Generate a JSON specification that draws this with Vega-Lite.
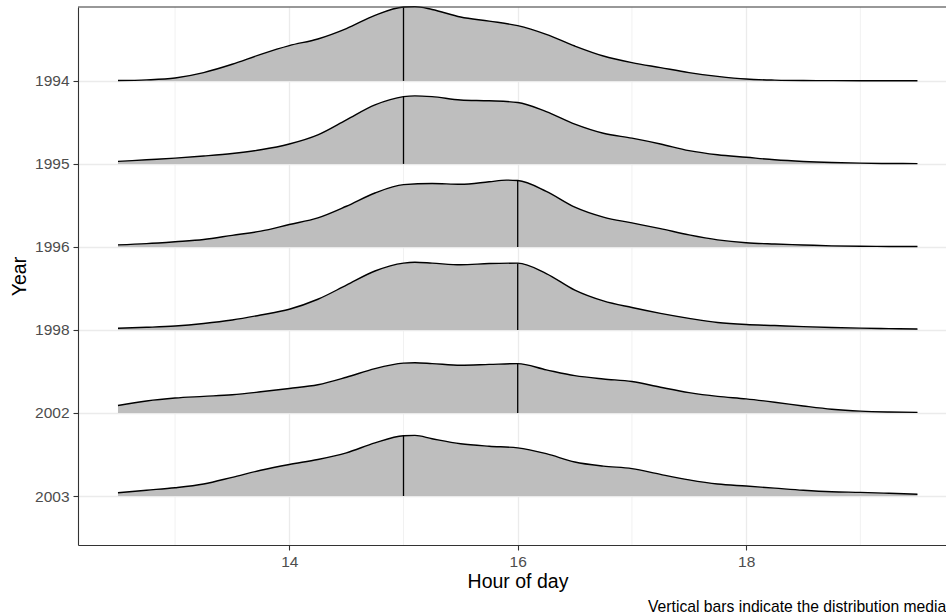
{
  "$schema": "https://vega.github.io/schema/vega-lite/v6.json",
  "width": 868,
  "height": 538,
  "autosize": {"type": "none"},
  "padding": {"left": 78, "top": 7, "right": 0, "bottom": 71},
  "title": {
    "text": "Vertical bars indicate the distribution median",
    "orient": "bottom",
    "anchor": "start",
    "frame": "group",
    "dx": 570,
    "offset": 9,
    "fontSize": 15.7,
    "fontWeight": "normal",
    "font": "Liberation Sans",
    "color": "#000000"
  },
  "datasets": {
    "minor": [{"h": 13}, {"h": 15}, {"h": 17}, {"h": 19}],
    "medians": [
      {"Year": "1994", "median": 15, "d": 0.89},
      {"Year": "1995", "median": 15, "d": 0.81},
      {"Year": "1996", "median": 16, "d": 0.80},
      {"Year": "1998", "median": 16, "d": 0.80},
      {"Year": "2002", "median": 16, "d": 0.59},
      {"Year": "2003", "median": 15, "d": 0.725}
    ],
    "ridges": [
      {"Year":"1994","hour":12.5,"d":0.004},{"Year":"1994","hour":12.75,"d":0.012},{"Year":"1994","hour":13,"d":0.035},{"Year":"1994","hour":13.25,"d":0.10},{"Year":"1994","hour":13.5,"d":0.20},{"Year":"1994","hour":13.75,"d":0.32},{"Year":"1994","hour":14,"d":0.425},{"Year":"1994","hour":14.25,"d":0.505},{"Year":"1994","hour":14.5,"d":0.63},{"Year":"1994","hour":14.75,"d":0.79},{"Year":"1994","hour":15,"d":0.89},{"Year":"1994","hour":15.1,"d":0.895},{"Year":"1994","hour":15.25,"d":0.86},{"Year":"1994","hour":15.5,"d":0.77},{"Year":"1994","hour":15.75,"d":0.72},{"Year":"1994","hour":16,"d":0.665},{"Year":"1994","hour":16.25,"d":0.56},{"Year":"1994","hour":16.5,"d":0.42},{"Year":"1994","hour":16.75,"d":0.30},{"Year":"1994","hour":17,"d":0.22},{"Year":"1994","hour":17.25,"d":0.16},{"Year":"1994","hour":17.5,"d":0.10},{"Year":"1994","hour":17.75,"d":0.055},{"Year":"1994","hour":18,"d":0.022},{"Year":"1994","hour":18.25,"d":0.009},{"Year":"1994","hour":18.5,"d":0.004},{"Year":"1994","hour":18.75,"d":0.003},{"Year":"1994","hour":19,"d":0.002},{"Year":"1994","hour":19.25,"d":0.002},{"Year":"1994","hour":19.5,"d":0.002},
      {"Year":"1995","hour":12.5,"d":0.03},{"Year":"1995","hour":12.75,"d":0.05},{"Year":"1995","hour":13,"d":0.07},{"Year":"1995","hour":13.25,"d":0.095},{"Year":"1995","hour":13.5,"d":0.125},{"Year":"1995","hour":13.75,"d":0.17},{"Year":"1995","hour":14,"d":0.24},{"Year":"1995","hour":14.25,"d":0.35},{"Year":"1995","hour":14.5,"d":0.53},{"Year":"1995","hour":14.75,"d":0.71},{"Year":"1995","hour":15,"d":0.81},{"Year":"1995","hour":15.1,"d":0.82},{"Year":"1995","hour":15.25,"d":0.81},{"Year":"1995","hour":15.5,"d":0.77},{"Year":"1995","hour":15.75,"d":0.76},{"Year":"1995","hour":16,"d":0.74},{"Year":"1995","hour":16.25,"d":0.63},{"Year":"1995","hour":16.5,"d":0.48},{"Year":"1995","hour":16.75,"d":0.37},{"Year":"1995","hour":17,"d":0.31},{"Year":"1995","hour":17.25,"d":0.24},{"Year":"1995","hour":17.5,"d":0.16},{"Year":"1995","hour":17.75,"d":0.11},{"Year":"1995","hour":18,"d":0.08},{"Year":"1995","hour":18.25,"d":0.05},{"Year":"1995","hour":18.5,"d":0.03},{"Year":"1995","hour":18.75,"d":0.017},{"Year":"1995","hour":19,"d":0.009},{"Year":"1995","hour":19.25,"d":0.005},{"Year":"1995","hour":19.5,"d":0.004},
      {"Year":"1996","hour":12.5,"d":0.025},{"Year":"1996","hour":12.75,"d":0.04},{"Year":"1996","hour":13,"d":0.063},{"Year":"1996","hour":13.25,"d":0.09},{"Year":"1996","hour":13.5,"d":0.14},{"Year":"1996","hour":13.75,"d":0.19},{"Year":"1996","hour":14,"d":0.27},{"Year":"1996","hour":14.25,"d":0.35},{"Year":"1996","hour":14.5,"d":0.49},{"Year":"1996","hour":14.75,"d":0.65},{"Year":"1996","hour":15,"d":0.75},{"Year":"1996","hour":15.25,"d":0.765},{"Year":"1996","hour":15.5,"d":0.755},{"Year":"1996","hour":15.75,"d":0.785},{"Year":"1996","hour":15.9,"d":0.805},{"Year":"1996","hour":16,"d":0.80},{"Year":"1996","hour":16.25,"d":0.67},{"Year":"1996","hour":16.5,"d":0.48},{"Year":"1996","hour":16.75,"d":0.36},{"Year":"1996","hour":17,"d":0.29},{"Year":"1996","hour":17.25,"d":0.22},{"Year":"1996","hour":17.5,"d":0.145},{"Year":"1996","hour":17.75,"d":0.085},{"Year":"1996","hour":18,"d":0.05},{"Year":"1996","hour":18.25,"d":0.035},{"Year":"1996","hour":18.5,"d":0.024},{"Year":"1996","hour":18.75,"d":0.013},{"Year":"1996","hour":19,"d":0.008},{"Year":"1996","hour":19.25,"d":0.006},{"Year":"1996","hour":19.5,"d":0.005},
      {"Year":"1998","hour":12.5,"d":0.02},{"Year":"1998","hour":12.75,"d":0.032},{"Year":"1998","hour":13,"d":0.048},{"Year":"1998","hour":13.25,"d":0.078},{"Year":"1998","hour":13.5,"d":0.12},{"Year":"1998","hour":13.75,"d":0.18},{"Year":"1998","hour":14,"d":0.25},{"Year":"1998","hour":14.25,"d":0.37},{"Year":"1998","hour":14.5,"d":0.54},{"Year":"1998","hour":14.75,"d":0.71},{"Year":"1998","hour":15,"d":0.805},{"Year":"1998","hour":15.1,"d":0.815},{"Year":"1998","hour":15.25,"d":0.805},{"Year":"1998","hour":15.5,"d":0.785},{"Year":"1998","hour":15.75,"d":0.80},{"Year":"1998","hour":16,"d":0.805},{"Year":"1998","hour":16.25,"d":0.68},{"Year":"1998","hour":16.5,"d":0.48},{"Year":"1998","hour":16.75,"d":0.35},{"Year":"1998","hour":17,"d":0.27},{"Year":"1998","hour":17.25,"d":0.20},{"Year":"1998","hour":17.5,"d":0.14},{"Year":"1998","hour":17.75,"d":0.09},{"Year":"1998","hour":18,"d":0.065},{"Year":"1998","hour":18.25,"d":0.053},{"Year":"1998","hour":18.5,"d":0.04},{"Year":"1998","hour":18.75,"d":0.03},{"Year":"1998","hour":19,"d":0.022},{"Year":"1998","hour":19.25,"d":0.016},{"Year":"1998","hour":19.5,"d":0.012},
      {"Year":"2002","hour":12.5,"d":0.09},{"Year":"2002","hour":12.75,"d":0.145},{"Year":"2002","hour":13,"d":0.18},{"Year":"2002","hour":13.25,"d":0.20},{"Year":"2002","hour":13.5,"d":0.22},{"Year":"2002","hour":13.75,"d":0.255},{"Year":"2002","hour":14,"d":0.295},{"Year":"2002","hour":14.25,"d":0.34},{"Year":"2002","hour":14.5,"d":0.43},{"Year":"2002","hour":14.75,"d":0.535},{"Year":"2002","hour":15,"d":0.60},{"Year":"2002","hour":15.1,"d":0.605},{"Year":"2002","hour":15.25,"d":0.595},{"Year":"2002","hour":15.5,"d":0.575},{"Year":"2002","hour":15.75,"d":0.585},{"Year":"2002","hour":16,"d":0.595},{"Year":"2002","hour":16.25,"d":0.52},{"Year":"2002","hour":16.5,"d":0.45},{"Year":"2002","hour":16.75,"d":0.41},{"Year":"2002","hour":17,"d":0.38},{"Year":"2002","hour":17.25,"d":0.31},{"Year":"2002","hour":17.5,"d":0.245},{"Year":"2002","hour":17.75,"d":0.20},{"Year":"2002","hour":18,"d":0.17},{"Year":"2002","hour":18.25,"d":0.13},{"Year":"2002","hour":18.5,"d":0.085},{"Year":"2002","hour":18.75,"d":0.045},{"Year":"2002","hour":19,"d":0.022},{"Year":"2002","hour":19.25,"d":0.012},{"Year":"2002","hour":19.5,"d":0.008},
      {"Year":"2003","hour":12.5,"d":0.04},{"Year":"2003","hour":12.75,"d":0.07},{"Year":"2003","hour":13,"d":0.10},{"Year":"2003","hour":13.25,"d":0.145},{"Year":"2003","hour":13.5,"d":0.225},{"Year":"2003","hour":13.75,"d":0.31},{"Year":"2003","hour":14,"d":0.38},{"Year":"2003","hour":14.25,"d":0.44},{"Year":"2003","hour":14.5,"d":0.52},{"Year":"2003","hour":14.75,"d":0.64},{"Year":"2003","hour":15,"d":0.725},{"Year":"2003","hour":15.1,"d":0.73},{"Year":"2003","hour":15.25,"d":0.69},{"Year":"2003","hour":15.5,"d":0.63},{"Year":"2003","hour":15.75,"d":0.60},{"Year":"2003","hour":16,"d":0.58},{"Year":"2003","hour":16.25,"d":0.51},{"Year":"2003","hour":16.5,"d":0.41},{"Year":"2003","hour":16.75,"d":0.36},{"Year":"2003","hour":17,"d":0.33},{"Year":"2003","hour":17.25,"d":0.26},{"Year":"2003","hour":17.5,"d":0.195},{"Year":"2003","hour":17.75,"d":0.145},{"Year":"2003","hour":18,"d":0.12},{"Year":"2003","hour":18.25,"d":0.095},{"Year":"2003","hour":18.5,"d":0.07},{"Year":"2003","hour":18.75,"d":0.052},{"Year":"2003","hour":19,"d":0.044},{"Year":"2003","hour":19.25,"d":0.033},{"Year":"2003","hour":19.5,"d":0.022}
    ]
  },
  "layer": [
    {
      "data": {"name": "minor"},
      "mark": {"type": "rule", "color": "#ebebeb", "strokeWidth": 0.7},
      "encoding": {
        "x": {
          "field": "h", "type": "quantitative", "title": "Hour of day",
          "scale": {"domain": [12.15, 19.75], "nice": false, "zero": false},
          "axis": {"values": [14, 16, 18], "format": "d", "grid": true, "labelPadding": 4, "titlePadding": 3, "titleX": 439.5}
        }
      }
    },
    {
      "data": {"name": "ridges"},
      "transform": [
        {"calculate": "indexof(['2003','2002','1998','1996','1995','1994'], datum.Year) + 1", "as": "pos"},
        {"calculate": "datum.pos + datum.d", "as": "top"}
      ],
      "mark": {"type": "area", "color": "#bebebe", "interpolate": "monotone"},
      "encoding": {
        "x": {"field": "hour", "type": "quantitative", "title": "Hour of day", "scale": {"domain": [12.15, 19.75], "nice": false, "zero": false}},
        "y": {
          "field": "top", "type": "quantitative", "title": "Year",
          "scale": {"domain": [0.41, 6.89], "nice": false, "zero": false},
          "axis": {"values": [1, 2, 3, 4, 5, 6], "grid": true, "labelPadding": 4, "titlePadding": 5,
                   "labelExpr": "['','2003','2002','1998','1996','1995','1994'][datum.value]"}
        },
        "y2": {"field": "pos"},
        "detail": {"field": "Year"}
      }
    },
    {
      "data": {"name": "ridges"},
      "transform": [
        {"calculate": "indexof(['2003','2002','1998','1996','1995','1994'], datum.Year) + 1", "as": "pos"},
        {"calculate": "datum.pos + datum.d", "as": "top"}
      ],
      "mark": {"type": "line", "color": "#000000", "strokeWidth": 1.4, "interpolate": "monotone"},
      "encoding": {
        "x": {"field": "hour", "type": "quantitative", "title": "Hour of day", "scale": {"domain": [12.15, 19.75], "nice": false, "zero": false}},
        "y": {"field": "top", "type": "quantitative", "title": "Year", "scale": {"domain": [0.41, 6.89], "nice": false, "zero": false}},
        "detail": {"field": "Year"}
      }
    },
    {
      "data": {"name": "medians"},
      "transform": [
        {"calculate": "indexof(['2003','2002','1998','1996','1995','1994'], datum.Year) + 1", "as": "pos"},
        {"calculate": "datum.pos + datum.d", "as": "top"}
      ],
      "mark": {"type": "rule", "color": "#000000", "strokeWidth": 1.3},
      "encoding": {
        "x": {"field": "median", "type": "quantitative", "title": "Hour of day", "scale": {"domain": [12.15, 19.75], "nice": false, "zero": false}},
        "y": {"field": "pos", "type": "quantitative", "title": "Year", "scale": {"domain": [0.41, 6.89], "nice": false, "zero": false}},
        "y2": {"field": "top"}
      }
    },
    {
      "data": {"values": [{}]},
      "mark": {"type": "rule", "color": "#333333", "strokeWidth": 1.1},
      "encoding": {
        "y": {"datum": 6.89, "type": "quantitative", "title": "Year", "scale": {"domain": [0.41, 6.89], "nice": false, "zero": false}}
      }
    }
  ],
  "config": {
    "view": {"stroke": null},
    "font": "Liberation Sans",
    "axis": {
      "domainColor": "#333333",
      "domainWidth": 1.1,
      "tickColor": "#333333",
      "tickWidth": 1.1,
      "tickSize": 5,
      "labelColor": "#4d4d4d",
      "labelFontSize": 15.5,
      "labelFont": "Liberation Sans",
      "titleColor": "#000000",
      "titleFontSize": 19.5,
      "titleFontWeight": "normal",
      "titleFont": "Liberation Sans",
      "gridColor": "#ebebeb",
      "gridWidth": 1.3
    }
  }
}
